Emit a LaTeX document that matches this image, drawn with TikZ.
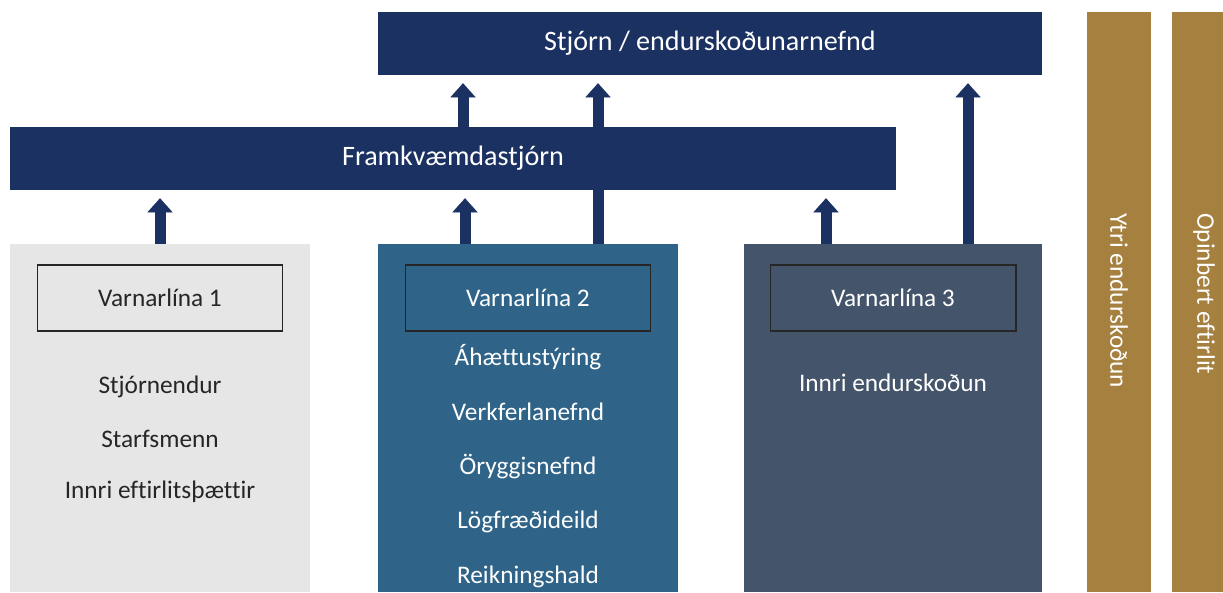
\documentclass[tikz,border=0pt]{standalone}
\usepackage{fontspec}
\setmainfont{Carlito}[Ligatures=NoCommon]
\usetikzlibrary{arrows.meta,positioning}
\definecolor{navy}{HTML}{1B3162}
\definecolor{lineone}{HTML}{E7E6E6}
\definecolor{linetwo}{HTML}{2F6488}
\definecolor{linethree}{HTML}{44546A}
\definecolor{gold}{HTML}{A6803E}
\definecolor{edge}{HTML}{262626}
\tikzset{>/.tip={Triangle[width=0.625cm,length=0.35cm,line width=0.01pt]}}

\begin{document}
\begin{tikzpicture}[
  head/.style={fill=navy, text=white, minimum height=1.575cm, font=\fontsize{20}{24}\selectfont},
  defline/.style={minimum width=7.5cm, minimum height=8.7cm},
  tag/.style={draw=edge, line width=1.4pt, minimum width=6.125cm, minimum height=1.65cm, font=\fontsize{18}{22}\selectfont},
  item/.style={inner sep=0pt, font=\fontsize{18}{22}\selectfont, on grid},
  gbar/.style={fill=gold, minimum width=1.6cm, minimum height=14.5cm},
  vtext/.style={text=white, rotate=-90, anchor=west, inner sep=0pt, font=\fontsize{18}{22}\selectfont},
  up/.style={->, draw=navy, line width=0.275cm}]
\useasboundingbox (0,0) rectangle (30.575,-14.8);

\node[head, minimum width=16.6cm] (board) at (17.75,-1.0875) {Stjórn / endurskoðunarnefnd};
\node[head, minimum width=22.15cm] (exec) at (11.325,-3.9625) {Framkvæmdastjórn};

\node[defline, fill=lineone] (v1) at (4,-10.45) {};
\node[defline, fill=linetwo] (v2) at (13.2,-10.45) {};
\node[defline, fill=linethree, minimum width=7.45cm] (v3) at (22.325,-10.45) {};

\node[gbar] (ext) at (27.975,-7.55) {};
\node[gbar] (pub) at (30.1,-7.55) {};
\node[vtext] at ([yshift=-5.025cm]ext.north) {Ytri endurskoðun};
\node[vtext] at ([yshift=-5.025cm]pub.north) {Opinbert eftirlit};

% line 1
\node[tag, fill=lineone, text=edge] (t1) at ([yshift=-1.35cm]v1.north) {Varnarlína 1};
\node[item, text=edge] (a1) at ([yshift=-3.575cm]v1.north) {Stjórnendur};
\node[item, text=edge, below=1.3125cm of a1] (a2) {Starfsmenn};
\node[item, text=edge, below=1.3125cm of a2] (a3) {Innri eftirlitsþættir};

% line 2
\node[tag, fill=linetwo, text=white] (t2) at ([yshift=-1.35cm]v2.north) {Varnarlína 2};
\node[item, text=white] (b1) at ([yshift=-2.825cm]v2.north) {Áhættustýring};
\node[item, text=white, below=1.375cm of b1] (b2) {Verkferlanefnd};
\node[item, text=white, below=1.375cm of b2] (b3) {Öryggisnefnd};
\node[item, text=white, below=1.375cm of b3] (b4) {Lögfræðideild};
\node[item, text=white, below=1.375cm of b4] (b5) {Reikningshald};

% line 3
\node[tag, fill=linethree, text=white] (t3) at ([yshift=-1.35cm]v3.north) {Varnarlína 3};
\node[item, text=white] (c1) at ([yshift=-3.475cm]v3.north) {Innri endurskoðun};

% reporting arrows
\coordinate (p1) at (v1.north);
\coordinate (p2) at ([xshift=-1.575cm]v2.north);
\coordinate (p3) at ([xshift=1.75cm]v2.north);
\coordinate (p4) at ([xshift=-1.675cm]v3.north);
\coordinate (p5) at ([xshift=1.875cm]v3.north);
\coordinate (p6) at ([xshift=0.25cm]exec.north);

\draw[up] (p6) -- ([yshift=-0.2cm]board.south -| p6);
\draw[up] (p1) -- ([yshift=-0.2cm]exec.south -| p1);
\draw[up] (p2) -- ([yshift=-0.2cm]exec.south -| p2);
\draw[up] (p4) -- ([yshift=-0.2cm]exec.south -| p4);
\draw[up] (p3) -- ([yshift=-0.2cm]board.south -| p3);
\draw[up] (p5) -- ([yshift=-0.2cm]board.south -| p5);
\end{tikzpicture}
\end{document}
